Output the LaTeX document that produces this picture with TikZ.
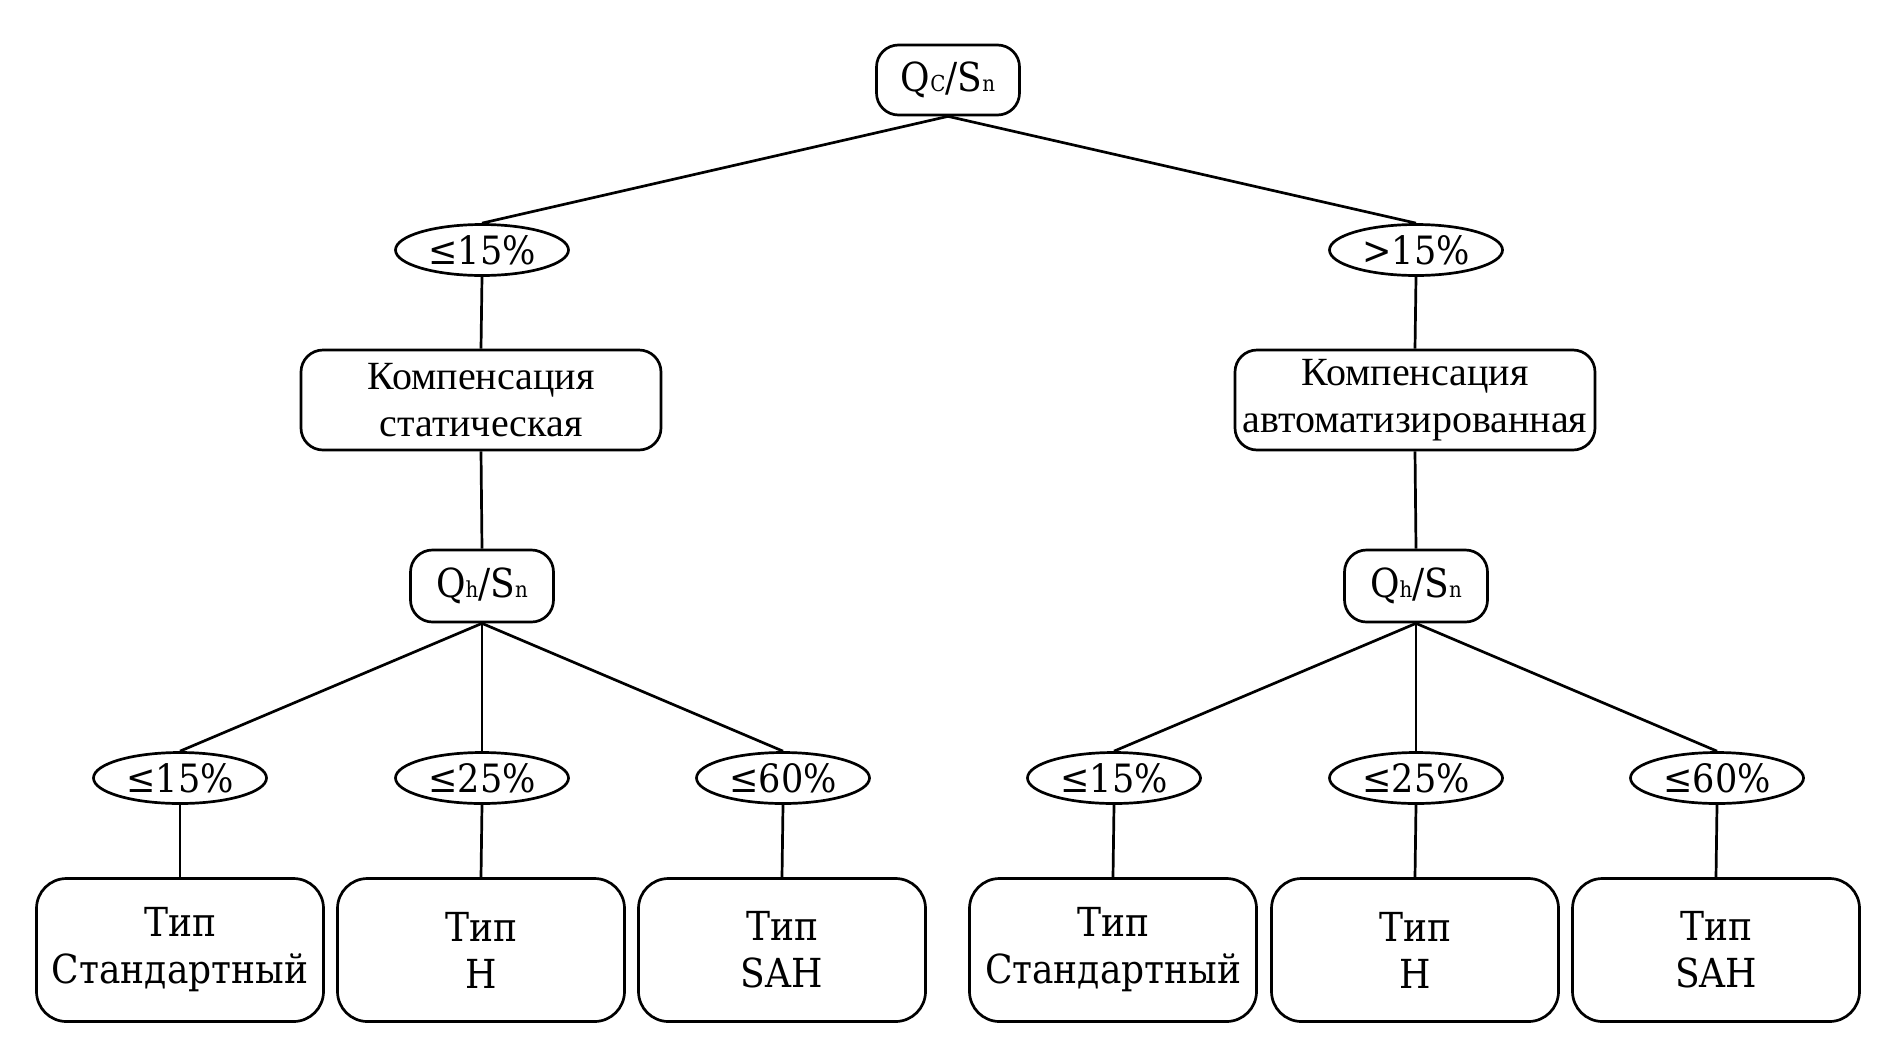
\documentclass[tikz,border=0pt]{standalone}
\usepackage{fontspec}
\usetikzlibrary{shapes.geometric}
\setmainfont{DejaVu Serif Condensed}
\newfontfamily\timesf{Liberation Serif}
\begin{document}
\begin{tikzpicture}[x=1pt,y=-1pt,
  every node/.style={line width=2.7pt},
  rbox/.style={draw,rounded corners=22pt,align=center,inner sep=0pt},
  oval/.style={draw,ellipse,inner sep=0pt,minimum width=173pt,minimum height=51pt,font=\fontsize{39}{42}\selectfont},
  conn/.style={line width=2.7pt}]
\useasboundingbox (0,0) rectangle (1890,1050);
\newcommand{\smalll}[1]{{\fontsize{22}{24}\selectfont #1}}
% top
\node[rbox,minimum width=143pt,minimum height=70pt,font=\fontsize{40}{44}\selectfont] (top) at (948,80) {Q\smalll{C}/S\smalll{n}};
% level 1 ellipses
\node[oval] (e1) at (482,250) {≤15\%};
\node[oval] (e2) at (1416,250) {>15\%};
% compensation
\node[rbox,minimum width=360pt,minimum height=100pt,font=\timesf\fontsize{40}{47}\selectfont] (k1) at (481,400) {\raisebox{3pt}{}Компенсация\\статическая};
\node[rbox,minimum width=360pt,minimum height=100pt,font=\timesf\fontsize{40}{47}\selectfont] (k2) at (1415,400) {Компенсация\\автоматизированная};
% Qh
\node[rbox,minimum width=143pt,minimum height=72pt,font=\fontsize{40}{44}\selectfont] (q1) at (482,586) {Q\smalll{h}/S\smalll{n}};
\node[rbox,minimum width=143pt,minimum height=72pt,font=\fontsize{40}{44}\selectfont] (q2) at (1416,586) {Q\smalll{h}/S\smalll{n}};
% bottom ellipses
\node[oval] (a1) at (180,778) {≤15\%};
\node[oval] (a2) at (482,778) {≤25\%};
\node[oval] (a3) at (783,778) {≤60\%};
\node[oval] (b1) at (1114,778) {≤15\%};
\node[oval] (b2) at (1416,778) {≤25\%};
\node[oval] (b3) at (1717,778) {≤60\%};
% bottom boxes
\tikzset{tbox/.style={rbox,minimum width=287pt,minimum height=143pt,rounded corners=30pt,font=\fontsize{40}{47}\selectfont}}
\node[tbox] (t1) at (180,950) {Тип\\Стандартный};
\node[tbox] (t2) at (481,950) {Тип\\H};
\node[tbox] (t3) at (782,950) {Тип\\SAH};
\node[tbox] (u1) at (1113,950) {Тип\\Стандартный};
\node[tbox] (u2) at (1415,950) {Тип\\H};
\node[tbox] (u3) at (1716,950) {Тип\\SAH};
% connectors
\draw[conn] (top.south) -- (e1.north);
\draw[conn] (top.south) -- (e2.north);
\draw[conn] (e1.south) -- (k1.north);
\draw[conn] (e2.south) -- (k2.north);
\draw[conn] (k1.south) -- (q1.north);
\draw[conn] (k2.south) -- (q2.north);
\draw[conn] (q1.south) -- (a1.north);
\draw[conn] (q1.south) -- (a2.north);
\draw[conn] (q1.south) -- (a3.north);
\draw[conn] (q2.south) -- (b1.north);
\draw[conn] (q2.south) -- (b2.north);
\draw[conn] (q2.south) -- (b3.north);
\draw[conn] (a1.south) -- (t1.north);
\draw[conn] (a2.south) -- (t2.north);
\draw[conn] (a3.south) -- (t3.north);
\draw[conn] (b1.south) -- (u1.north);
\draw[conn] (b2.south) -- (u2.north);
\draw[conn] (b3.south) -- (u3.north);
\end{tikzpicture}
\end{document}
